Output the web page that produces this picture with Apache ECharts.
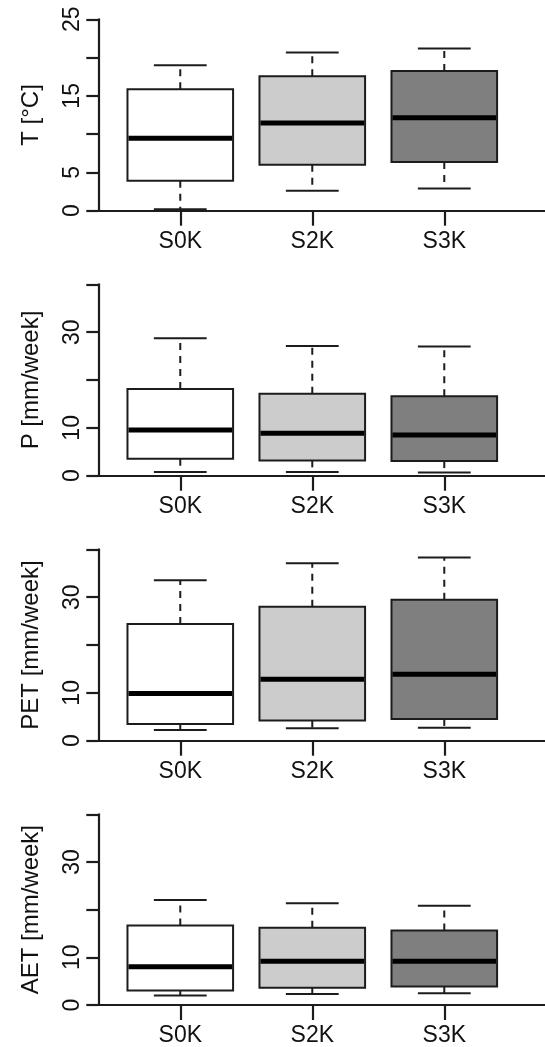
<!DOCTYPE html>
<html>
<head>
<meta charset="utf-8">
<title>Weekly climate variables by scenario</title>
<script src="https://cdn.jsdelivr.net/npm/echarts@6/dist/echarts.min.js"></script>
<style>
  html, body { margin: 0; padding: 0; background: #fff; }
  #chart { width: 545px; height: 1047px; }
</style>
</head>
<body>
<div id="chart"></div>
<script>
// Scenarios on the x axis
const categories = ['S0K', 'S2K', 'S3K'];
// Box fills per scenario
const boxFills = ['#ffffff', '#cccccc', '#7f7f7f'];

// Five-number summaries per scenario: [lower whisker, Q1, median, Q3, upper whisker]
const tempStats = [
  [0.2, 3.9, 9.45, 15.85, 19.0],
  [2.6, 6.0, 11.45, 17.55, 20.65],
  [2.9, 6.35, 12.15, 18.25, 21.2]
];
const precipStats = [
  [0.75, 3.55, 9.55, 18.1, 28.7],
  [0.75, 3.2, 8.85, 17.15, 27.1],
  [0.65, 3.05, 8.5, 16.6, 27.0]
];
const petStats = [
  [2.25, 3.5, 9.85, 24.4, 33.55],
  [2.6, 4.2, 12.85, 28.0, 37.1],
  [2.7, 4.55, 13.9, 29.45, 38.3]
];
const aetStats = [
  [2.0, 3.05, 8.0, 16.7, 22.0],
  [2.3, 3.6, 9.2, 16.2, 21.35],
  [2.45, 3.9, 9.2, 15.65, 20.8]
];

// Axis titles and the tick labels that are printed
const yTitles = ['T [°C]', 'P [mm/week]', 'PET [mm/week]', 'AET [mm/week]'];
const tempTickLabels = [0, 5, 15, 25];
const waterTickLabels = [0, 10, 30];

const panels = [
  { stats: tempStats, title: yTitles[0], max: 25, interval: 5, labels: tempTickLabels },
  { stats: precipStats, title: yTitles[1], max: 40, interval: 10, labels: waterTickLabels },
  { stats: petStats, title: yTitles[2], max: 40, interval: 10, labels: waterTickLabels },
  { stats: aetStats, title: yTitles[3], max: 40, interval: 10, labels: waterTickLabels }
];

const FONT = "'Liberation Sans', Arial, Helvetica, sans-serif";
const FONT_SIZE = 23;
const TITLE_SIZE = 24;
const INK = '#1c1c1c';
const BOX_HALF = 0.4;
const CAP_HALF = 0.2;

function renderBox(params, api) {
  const x = api.value(0);
  const lo = api.value(1), q1 = api.value(2), med = api.value(3), q3 = api.value(4), hi = api.value(5);
  const pLo = api.coord([x, lo]);
  const pQ1 = api.coord([x, q1]);
  const pQ3 = api.coord([x, q3]);
  const pHi = api.coord([x, hi]);
  const boxL = api.coord([x - BOX_HALF, q3]);
  const boxR = api.coord([x + BOX_HALF, q1]);
  const medL = api.coord([x - BOX_HALF, med]);
  const medR = api.coord([x + BOX_HALF, med]);
  const capL = api.coord([x - CAP_HALF, 0])[0];
  const capR = api.coord([x + CAP_HALF, 0])[0];
  const fill = boxFills[params.dataIndex];
  const dashed = { stroke: INK, lineWidth: 2, lineDash: [7, 6] };
  const solid = { stroke: INK, lineWidth: 2 };
  return {
    type: 'group',
    children: [
      { type: 'line', shape: { x1: pQ3[0], y1: pQ3[1], x2: pHi[0], y2: pHi[1] }, style: dashed },
      { type: 'line', shape: { x1: pQ1[0], y1: pQ1[1], x2: pLo[0], y2: pLo[1] }, style: dashed },
      { type: 'line', shape: { x1: capL, y1: pHi[1], x2: capR, y2: pHi[1] }, style: solid },
      { type: 'line', shape: { x1: capL, y1: pLo[1], x2: capR, y2: pLo[1] }, style: solid },
      {
        type: 'rect',
        shape: { x: boxL[0], y: boxL[1], width: boxR[0] - boxL[0], height: boxR[1] - boxL[1] },
        style: { fill: fill, stroke: INK, lineWidth: 2 }
      },
      { type: 'line', shape: { x1: medL[0] + 1, y1: medL[1], x2: medR[0] - 1, y2: medR[1] }, style: { stroke: '#000', lineWidth: 5 } }
    ]
  };
}

const grids = [], xAxes = [], yAxes = [], series = [];
const PANEL_TOP = 19.3, PANEL_STEP = 265, PANEL_H = 191.4;

panels.forEach((p, i) => {
  grids.push({ left: 98.3, right: 0, top: PANEL_TOP + i * PANEL_STEP, height: PANEL_H, containLabel: false });
  xAxes.push({
    gridIndex: i,
    type: 'value',
    min: 0.379,
    max: 3.763,
    axisLine: { show: true, lineStyle: { color: INK, width: 2.2 } },
    axisTick: { show: true, customValues: [1, 2, 3], length: 15, lineStyle: { color: INK, width: 2.2 } },
    axisLabel: {
      show: true,
      customValues: [1, 2, 3],
      formatter: v => categories[Math.round(v) - 1],
      margin: 19,
      fontSize: FONT_SIZE,
      fontFamily: FONT,
      color: '#111'
    },
    splitLine: { show: false }
  });
  yAxes.push({
    gridIndex: i,
    type: 'value',
    min: 0,
    max: p.max,
    interval: p.interval,
    name: p.title,
    nameLocation: 'middle',
    nameRotate: 90,
    nameGap: 55,
    nameTextStyle: { fontSize: TITLE_SIZE, fontFamily: FONT, color: '#111' },
    axisLine: { show: true, lineStyle: { color: INK, width: 2.2 } },
    axisTick: { show: true, length: 12, lineStyle: { color: INK, width: 2.2 } },
    axisLabel: {
      show: true,
      rotate: 90,
      margin: 14,
      fontSize: FONT_SIZE,
      fontFamily: FONT,
      color: '#111',
      formatter: v => (p.labels.includes(v) ? String(v) : '')
    },
    splitLine: { show: false }
  });
  series.push({
    type: 'custom',
    xAxisIndex: i,
    yAxisIndex: i,
    renderItem: renderBox,
    encode: { x: 0, y: [1, 2, 3, 4, 5] },
    data: p.stats.map((s, k) => [k + 1].concat(s)),
    silent: true
  });
});

const chart = echarts.init(document.getElementById('chart'), null, { renderer: 'canvas' });
chart.setOption({
  animation: false,
  backgroundColor: '#ffffff',
  grid: grids,
  xAxis: xAxes,
  yAxis: yAxes,
  series: series
});
</script>
</body>
</html>
